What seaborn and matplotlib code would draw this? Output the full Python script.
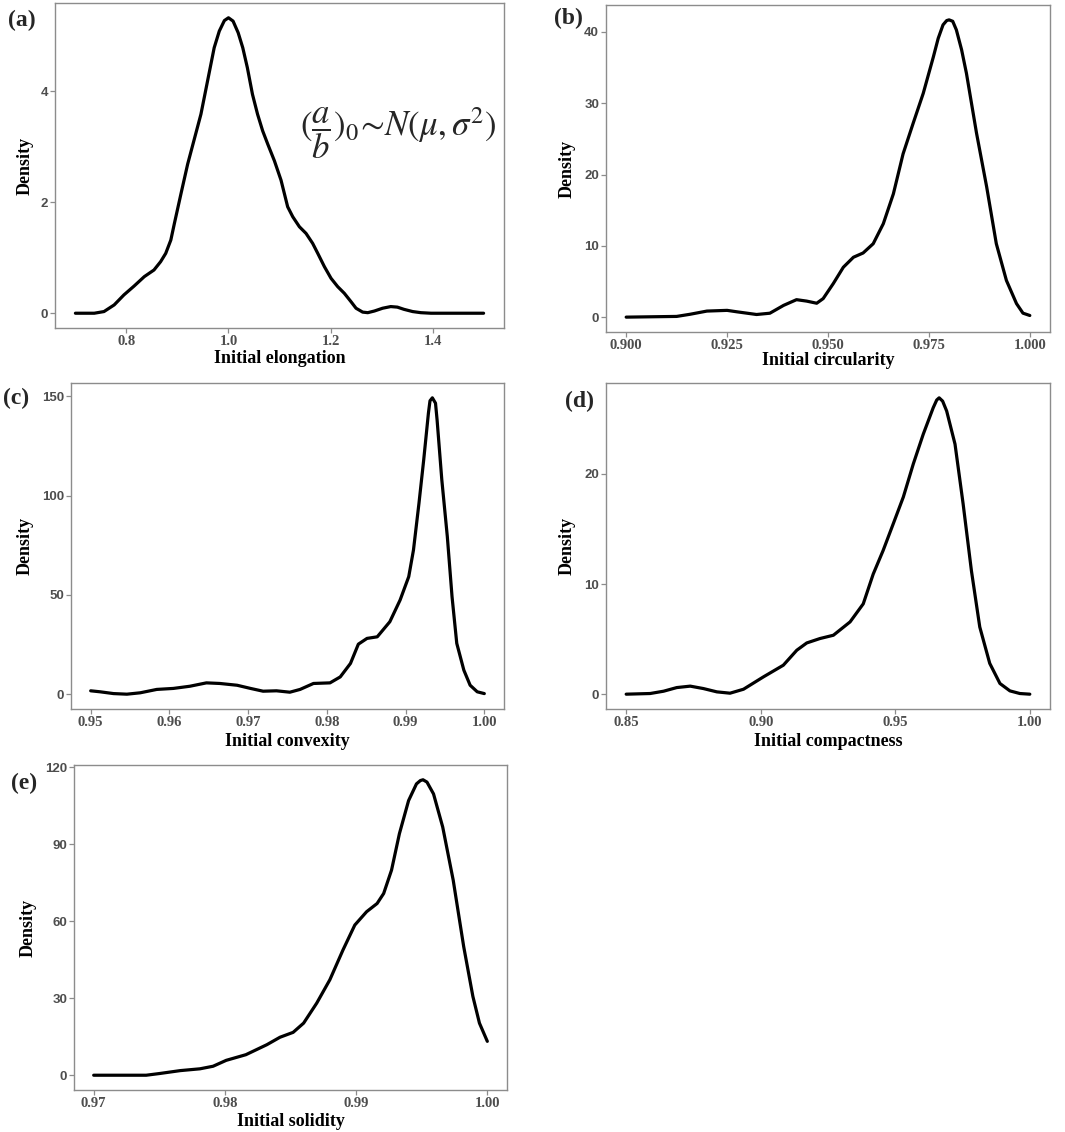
import matplotlib
matplotlib.use("Agg")
import matplotlib.pyplot as plt
import seaborn as sns
import pandas as pd

# ---------------- data ----------------
elong_x = [0.700, 0.737, 0.756, 0.776, 0.795, 0.815, 0.835, 0.854, 0.867, 0.877,
           0.887, 0.894, 0.907, 0.920, 0.933, 0.946, 0.959, 0.972, 0.982, 0.992,
           1.000, 1.009, 1.019, 1.028, 1.037, 1.047, 1.057, 1.067, 1.077, 1.090,
           1.103, 1.116, 1.126, 1.139, 1.152, 1.165, 1.175, 1.188, 1.201, 1.214,
           1.227, 1.240, 1.250, 1.263, 1.273, 1.286, 1.302, 1.318, 1.331, 1.344,
           1.361, 1.377, 1.397, 1.436, 1.500]
elong_y = [0.00, 0.00, 0.03, 0.15, 0.33, 0.49, 0.66, 0.78, 0.93, 1.08,
           1.32, 1.62, 2.16, 2.69, 3.14, 3.59, 4.19, 4.79, 5.09, 5.28,
           5.33, 5.27, 5.06, 4.79, 4.43, 3.95, 3.59, 3.29, 3.05, 2.75,
           2.40, 1.92, 1.74, 1.56, 1.44, 1.26, 1.08, 0.84, 0.63, 0.48,
           0.36, 0.21, 0.09, 0.02, 0.01, 0.04, 0.09, 0.12, 0.11, 0.07,
           0.03, 0.01, 0.00, 0.00, 0.00]

circ_x = [0.9000, 0.9125, 0.9158, 0.9200, 0.9250, 0.9274, 0.9323, 0.9356, 0.9390, 0.9422,
          0.9447, 0.9472, 0.9488, 0.9513, 0.9538, 0.9563, 0.9587, 0.9612, 0.9637, 0.9662,
          0.9686, 0.9711, 0.9736, 0.9761, 0.9773, 0.9785, 0.9794, 0.9800, 0.9809, 0.9818,
          0.9831, 0.9843, 0.9868, 0.9893, 0.9917, 0.9942, 0.9967, 0.9983, 1.0000]
circ_y = [0.00, 0.10, 0.40, 0.85, 0.95, 0.75, 0.37, 0.55, 1.65, 2.45,
          2.25, 1.95, 2.60, 4.70, 7.00, 8.40, 9.00, 10.3, 13.1, 17.3,
          22.9, 27.2, 31.4, 36.5, 39.1, 41.0, 41.6, 41.7, 41.5, 40.3,
          37.5, 34.2, 25.8, 18.3, 10.3, 5.15, 1.90, 0.56, 0.23]

conv_x = [0.9500, 0.9512, 0.9529, 0.9546, 0.9563, 0.9584, 0.9605, 0.9626, 0.9647, 0.9664,
          0.9686, 0.9703, 0.9719, 0.9736, 0.9753, 0.9766, 0.9783, 0.9804, 0.9817, 0.9830,
          0.9840, 0.9851, 0.9864, 0.9880, 0.9893, 0.9904, 0.9910, 0.9917, 0.9923, 0.9929,
          0.9931, 0.9934, 0.9938, 0.9940, 0.9946, 0.9953, 0.9959, 0.9965, 0.9974, 0.9982,
          0.9991, 1.0000]
conv_y = [1.7, 1.2, 0.3, 0.0, 0.7, 2.4, 2.9, 4.0, 5.7, 5.4,
          4.5, 2.9, 1.5, 1.7, 1.0, 2.4, 5.4, 5.7, 8.7, 15.5,
          25.2, 28.1, 28.9, 36.5, 47.4, 59.2, 72.6, 96.2, 118.0, 141.6,
          147.8, 149.3, 146.6, 138.2, 108.0, 79.4, 49.1, 25.6, 12.1, 4.5,
          1.2, 0.3]

comp_x = [0.8500, 0.8589, 0.8639, 0.8688, 0.8738, 0.8787, 0.8837, 0.8886, 0.8936, 0.9010,
          0.9084, 0.9134, 0.9171, 0.9220, 0.9270, 0.9332, 0.9381, 0.9418, 0.9455, 0.9493,
          0.9530, 0.9567, 0.9604, 0.9641, 0.9654, 0.9663, 0.9676, 0.9691, 0.9722, 0.9752,
          0.9783, 0.9814, 0.9851, 0.9889, 0.9926, 0.9963, 1.0000]
comp_y = [0.00, 0.06, 0.27, 0.60, 0.73, 0.51, 0.21, 0.09, 0.45, 1.57,
          2.63, 3.99, 4.65, 5.05, 5.35, 6.56, 8.20, 10.9, 13.05, 15.5,
          17.9, 20.9, 23.6, 26.0, 26.7, 26.9, 26.6, 25.7, 22.7, 17.3,
          11.2, 6.1, 2.8, 0.97, 0.30, 0.06, 0.00]

sol_x = [0.9700, 0.9740, 0.9750, 0.9766, 0.9781, 0.9791, 0.9801, 0.9816, 0.9832, 0.9842,
         0.9852, 0.9860, 0.9870, 0.9880, 0.9890, 0.9899, 0.9908, 0.9916, 0.9921, 0.9927,
         0.9933, 0.9940, 0.9946, 0.9949, 0.9951, 0.9954, 0.9959, 0.9966, 0.9974, 0.9982,
         0.9989, 0.9994, 1.0000]
sol_y = [0.0, 0.0, 0.65, 1.8, 2.5, 3.5, 5.8, 8.0, 11.9, 14.8,
         16.7, 20.3, 28.1, 37.2, 48.8, 58.5, 63.7, 66.9, 70.8, 79.9,
         94.1, 107.0, 113.5, 114.8, 115.1, 114.2, 109.6, 96.7, 76.0, 50.1,
         30.7, 20.3, 13.2]

panel_tags = ["(a)", "(b)", "(c)", "(d)", "(e)"]
x_titles = ["Initial elongation", "Initial circularity", "Initial convexity",
            "Initial compactness", "Initial solidity"]
x_ticks = [[0.8, 1.0, 1.2, 1.4], [0.900, 0.925, 0.950, 0.975, 1.000],
           [0.95, 0.96, 0.97, 0.98, 0.99, 1.00], [0.85, 0.90, 0.95, 1.00],
           [0.97, 0.98, 0.99, 1.00]]
x_fmt = ["{:.1f}", "{:.3f}", "{:.2f}", "{:.2f}", "{:.2f}"]
y_ticks = [[0, 2, 4], [0, 10, 20, 30, 40], [0, 50, 100, 150], [0, 10, 20],
           [0, 30, 60, 90, 120]]
series = [(elong_x, elong_y), (circ_x, circ_y), (conv_x, conv_y),
          (comp_x, comp_y), (sol_x, sol_y)]

# ---------------- layout (pixel boxes: left, top, right, bottom) ----------------
W, H = 1065, 1132
boxes = [(55, 3, 504, 328), (606, 5, 1050, 332), (71, 383, 504, 709),
         (606, 383, 1050, 709), (74, 765, 507, 1090)]
ylab_dx = [30, 39, 46, 39, 46]
xlab_base = [363, 365, 746, 746, 1126]
tag_pos = [(22, 20), (568, 18), (16, 398), (579, 401), (24, 783)]

sns.set_theme(style="white")
plt.rcParams["font.family"] = ["Liberation Serif", "DejaVu Serif"]
plt.rcParams["mathtext.fontset"] = "stix"

fig = plt.figure(figsize=(W / 100, H / 100), dpi=100)
fig.patch.set_facecolor("white")

GREY = "#4D4D4D"
SPINE = "#8C8C8C"

for i, ((xs, ys), box) in enumerate(zip(series, boxes)):
    l, t, r, b = box
    ax = fig.add_axes([l / W, 1 - b / H, (r - l) / W, (b - t) / H])
    df = pd.DataFrame({"x": xs, "y": ys})
    sns.lineplot(data=df, x="x", y="y", ax=ax, color="black", linewidth=2.3,
                 sort=False, estimator=None)
    ax.lines[-1].set_solid_joinstyle("round")
    xr = max(xs) - min(xs)
    ax.set_xlim(min(xs) - 0.05 * xr, max(xs) + 0.05 * xr)
    ym = max(ys)
    ax.set_ylim(-0.05 * ym, 1.05 * ym)
    ax.set_xticks(x_ticks[i])
    ax.set_xticklabels([x_fmt[i].format(v) for v in x_ticks[i]],
                       fontfamily="Liberation Serif", fontweight="bold",
                       fontsize=10.5, color=GREY)
    ax.set_yticks(y_ticks[i])
    ax.set_yticklabels([str(v) for v in y_ticks[i]],
                       fontfamily="Liberation Sans", fontweight="bold",
                       fontsize=9.5, color=GREY)
    ax.tick_params(axis="both", which="both", direction="out", length=3.5,
                   width=0.9, color=SPINE, pad=1.5, bottom=True, left=True)
    for sp in ax.spines.values():
        sp.set_visible(True)
        sp.set_color(SPINE)
        sp.set_linewidth(1.0)
    ax.grid(False)
    ax.set_facecolor("white")

    ax.set_xlabel(x_titles[i], fontsize=13, fontweight="bold", color="black",
                  fontfamily="Liberation Serif")
    ax.xaxis.label.set_va("baseline")
    ax.xaxis.set_label_coords(0.5, -(xlab_base[i] - b) / (b - t))
    ax.set_ylabel("Density", fontsize=13, fontweight="bold", color="black",
                  fontfamily="Liberation Serif")
    ax.yaxis.label.set_va("center")
    ax.yaxis.set_label_coords(-ylab_dx[i] / (r - l), 0.5)

    tx, ty = tag_pos[i]
    fig.text(tx / W, 1 - ty / H, panel_tags[i], fontsize=17, fontweight="bold",
             fontfamily="Liberation Serif", ha="center", va="center")

    if i == 0:
        ax.text(0.764, 0.60, r"$(\dfrac{a}{b})_0\!\sim\! N(\mu,\sigma^2)$",
                transform=ax.transAxes, fontsize=25, ha="center", va="center")

fig.savefig("out.png", dpi=100, facecolor="white")
